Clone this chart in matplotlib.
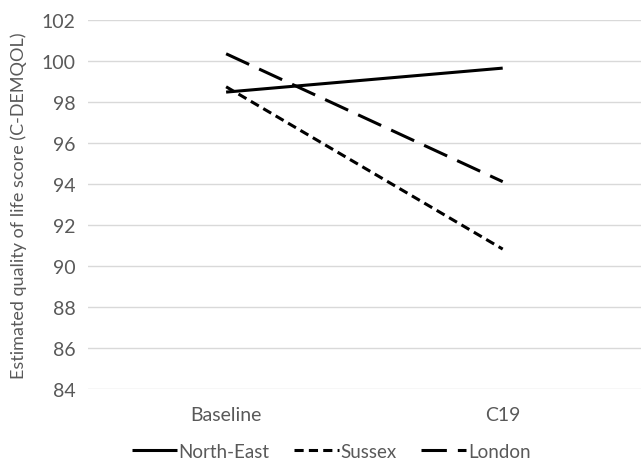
import matplotlib.pyplot as plt

categories = ["Baseline", "C19"]
north_east = [98.49, 99.66]
sussex = [98.75, 90.83]
london = [100.36, 94.12]
yticks = list(range(84, 103, 2))

plt.rcParams['font.family'] = ['Lato', 'DejaVu Sans']

fig = plt.figure(figsize=(6.41, 4.60), dpi=100)
ax = fig.add_axes([0.137, 0.152, 0.863, 0.802])

x = [0, 1]
ax.plot(x, north_east, color="black", lw=2.2, solid_capstyle="butt", label="North-East")
ax.plot(x, sussex, color="black", lw=2.2, dashes=(3, 1.7), dash_capstyle="butt", label="Sussex")
ax.plot(x, london, color="black", lw=2.2, dashes=(8.3, 3.6), dash_capstyle="butt", label="London")

ax.set_xlim(-0.5, 1.5)
ax.set_ylim(84, 102)
ax.set_yticks(yticks)
ax.set_xticks(x)
ax.set_xticklabels(categories)
ax.grid(axis="y", color="#d9d9d9", lw=1)
ax.set_axisbelow(True)
for s in ax.spines.values():
    s.set_visible(False)
ax.tick_params(length=0, labelsize=14, labelcolor="#595959", pad=9)
ax.tick_params(axis="x", pad=12)
ax.set_ylabel("Estimated quality of life score (C-DEMQOL)", fontsize=13, color="#595959", labelpad=10)

ax.legend(loc="upper center", bbox_to_anchor=(0.44, -0.1), ncol=3, frameon=False,
          fontsize=13.5, labelcolor="#595959", handlelength=2.4, handletextpad=0.1,
          columnspacing=1.3)

fig.savefig("out.png", dpi=100)
